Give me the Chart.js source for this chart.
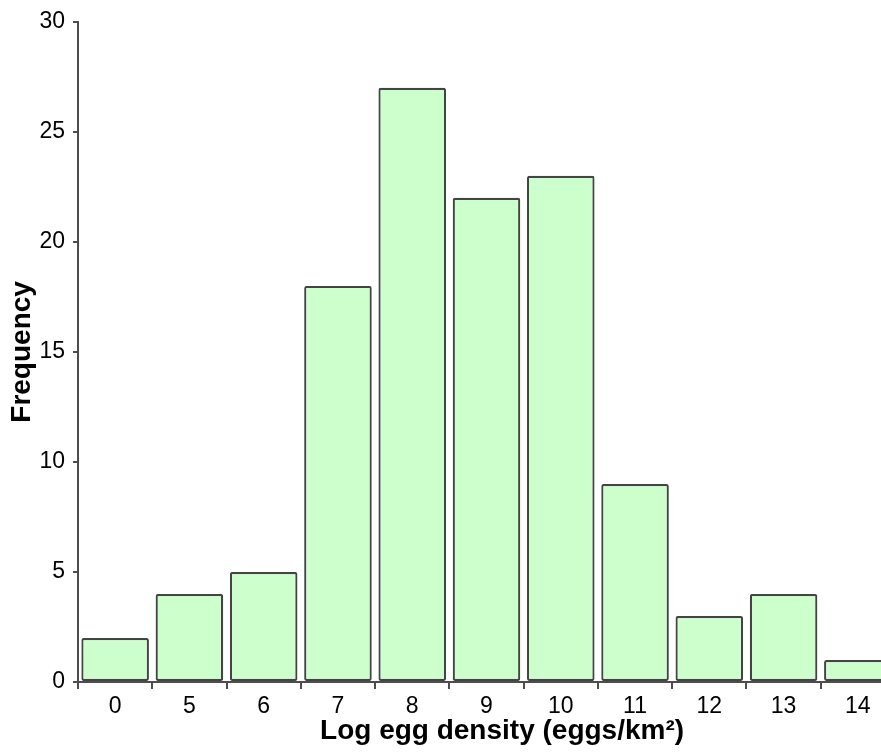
<!DOCTYPE html>
<html>
<head>
<meta charset="utf-8">
<script src="https://cdn.jsdelivr.net/npm/chart.js@4/dist/chart.umd.min.js"></script>
<style>
  html, body { margin: 0; padding: 0; background: #fff; overflow: hidden; width: 881px; height: 754px; }
  #wrap { position: absolute; left: 0; top: 0; width: 897px; height: 754px; }
</style>
</head>
<body>
<div id="wrap"><canvas id="c" width="897" height="754"></canvas></div>
<script>
const categories = ['0', '5', '6', '7', '8', '9', '10', '11', '12', '13', '14'];
const frequencies = [2, 4, 5, 18, 27, 22, 23, 9, 3, 4, 1];
const yMin = 0, yMax = 30, yStep = 5;
const xTitle = '    Log egg density (eggs/km\u00B2)';
const yTitle = 'Frequency';

const axisColor = '#4d4d4d';
const fontFamily = '"Liberation Sans", Arial, sans-serif';

new Chart(document.getElementById('c'), {
  type: 'bar',
  data: {
    labels: categories,
    datasets: [{
      data: frequencies,
      backgroundColor: '#ccffcc',
      borderColor: '#444444',
      borderWidth: 2.2,
      borderRadius: 2,
      borderSkipped: false,
      barPercentage: 0.91,
      categoryPercentage: 1.0
    }]
  },
  options: {
    responsive: false,
    animation: false,
    devicePixelRatio: 1,
    layout: { padding: { top: 17, right: 2, left: 0, bottom: 0 } },
    plugins: { legend: { display: false }, tooltip: { enabled: false } },
    scales: {
      x: {
        type: 'category',
        offset: true,
        grid: { display: true, drawOnChartArea: false, drawTicks: true, tickLength: 7, color: axisColor, lineWidth: 2, offset: true },
        border: { display: true, color: axisColor, width: 2 },
        ticks: { color: '#000', font: { family: fontFamily, size: 23 }, padding: 4, maxRotation: 0, autoSkip: false },
        title: { display: true, text: xTitle, color: '#000', font: { family: fontFamily, size: 28, weight: 'bold' }, padding: { top: 0, bottom: 6 } },
        afterFit: (s) => { s.height = 72; }
      },
      y: {
        min: yMin, max: yMax,
        ticks: { stepSize: yStep, color: '#000', font: { family: fontFamily, size: 23 }, padding: 8 },
        grid: { display: true, drawOnChartArea: false, drawTicks: true, tickLength: 5, color: axisColor, lineWidth: 2 },
        border: { display: true, color: axisColor, width: 2 },
        title: { display: true, text: yTitle, color: '#000', font: { family: fontFamily, size: 28, weight: 'bold' }, padding: { top: 5, bottom: 0 } },
        afterFit: (s) => { s.width = 78; }
      }
    }
  }
});
</script>
</body>
</html>
